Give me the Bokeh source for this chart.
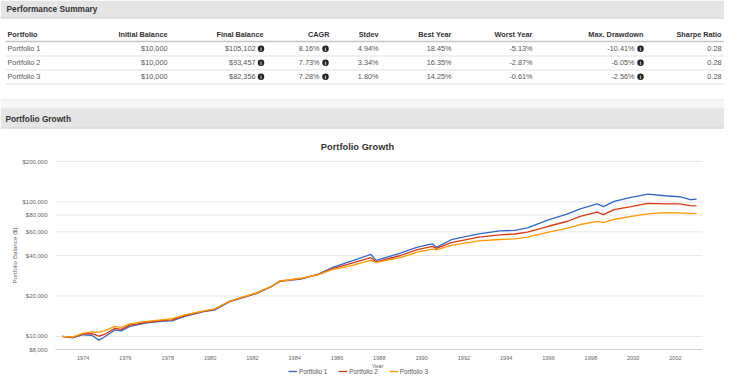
import math
from bokeh.plotting import figure
from bokeh.models import Range1d, LinearScale, Legend, LegendItem
from bokeh.core.properties import value
from bokeh.embed import file_html
from bokeh.resources import INLINE

FONT = "Liberation Sans"

# ---------------- data ----------------
portfolios = ["Portfolio 1", "Portfolio 2", "Portfolio 3"]
initial_balance = ["$10,000", "$10,000", "$10,000"]
final_balance = ["$105,102", "$93,457", "$82,356"]
cagr = ["8.16%", "7.73%", "7.28%"]
stdev = ["4.94%", "3.34%", "1.80%"]
best_year = ["18.45%", "16.35%", "14.25%"]
worst_year = ["-5.13%", "-2.87%", "-0.61%"]
max_drawdown = ["-10.41%", "-6.05%", "-2.56%"]
sharpe = ["0.28", "0.28", "0.28"]
headers = ["Portfolio", "Initial Balance", "Final Balance", "CAGR", "Stdev",
           "Best Year", "Worst Year", "Max. Drawdown", "Sharpe Ratio"]

years = [1973.0, 1973.5, 1974.0, 1974.4, 1974.75, 1975.0, 1975.5, 1975.8, 1976.2,
         1977.0, 1977.8, 1978.2, 1978.8, 1979.7, 1980.2, 1980.9, 1981.6, 1982.2,
         1982.9, 1983.3, 1984.3, 1985.1, 1985.8, 1986.5, 1987.6, 1987.85, 1989.0,
         1989.8, 1990.5, 1990.7, 1991.4, 1992.7, 1993.7, 1994.4, 1995.0, 1996.0,
         1996.9, 1997.5, 1998.3, 1998.6, 1999.1, 1999.9, 2000.7, 2001.5, 2002.2,
         2002.7, 2003.0]
p1 = [10000, 9780, 10300, 10200, 9400, 9900, 11200, 11000, 11900,
      12600, 13000, 13050, 14100, 15300, 15700, 18100, 19500, 20900,
      23500, 25700, 26700, 29000, 32600, 35600, 40700, 36800, 41600,
      46100, 48900, 46000, 52400, 58000, 60900, 61600, 64100, 73600,
      81500, 88800, 96700, 92400, 101100, 108200, 114500, 111300, 109400,
      103900, 105102]
p2 = [10000, 9830, 10450, 10500, 10050, 10350, 11500, 11300, 12150,
      12750, 13150, 13300, 14300, 15450, 15900, 18200, 19700, 21000,
      23550, 25800, 26900, 28900, 32000, 34300, 38500, 35900, 40000,
      44300, 46700, 45200, 49800, 54800, 57000, 57800, 59700, 66000,
      71900, 78100, 84200, 80500, 87700, 92400, 97800, 96700, 96700,
      94100, 93457]
p3 = [10000, 9880, 10600, 10800, 10780, 11000, 11870, 11700, 12400,
      12950, 13350, 13550, 14450, 15500, 16000, 18200, 19800, 21100,
      23600, 25850, 27100, 28700, 31500, 33100, 36800, 35500, 38500,
      42300, 44700, 44000, 47500, 51300, 52600, 53100, 54800, 59700,
      63800, 68000, 71700, 70100, 74100, 78100, 81500, 83400, 82900,
      82000, 82356]
series_names = ["Portfolio 1", "Portfolio 2", "Portfolio 3"]
series_colors = ["#3366cc", "#dc3912", "#ff9900"]
y_ticks = [8000, 10000, 20000, 40000, 60000, 80000, 100000, 200000]
y_tick_labels = ["$8,000", "$10,000", "$20,000", "$40,000", "$60,000", "$80,000",
                 "$100,000", "$200,000"]
x_ticks = [1974, 1976, 1978, 1980, 1982, 1984, 1986, 1988, 1990, 1992, 1994,
           1996, 1998, 2000, 2002]
x_tick_labels = [str(t) for t in x_ticks]

# ---------------- layout (canvas pixels) ----------------
CL, CR, CT, CB = 0, 724, 0, 375          # canvas
FL, FR, FT, FB = 55, 702, 161, 349       # chart plotting area
X0, X1 = 1972.69, 2003.28                # x extent of plotting area (years)
Y0, Y1 = 8000, 200000                    # y extent of plotting area (log)

yr_per_px = (X1 - X0) / (FR - FL)
x_start = X0 - (FL - CL) * yr_per_px
x_end = X1 + (CR - FR) * yr_per_px
dec_per_px = (math.log10(Y1) - math.log10(Y0)) / (FB - FT)
y_start = 10 ** (math.log10(Y0) - (CB - FB) * dec_per_px)
y_end = 10 ** (math.log10(Y1) + (FT - CT) * dec_per_px)

p = figure(width=CR - CL, height=CB - CT,
           x_range=Range1d(x_start, x_end), y_range=Range1d(y_start, y_end),
           y_axis_type="log", x_axis_location=None, y_axis_location=None,
           toolbar_location=None, output_backend="svg", min_border=0,
           outline_line_color=None)
p.xgrid.visible = False
p.ygrid.visible = False
p.extra_x_ranges = {"px": Range1d(CL, CR)}
p.extra_y_ranges = {"px": Range1d(CB, CT)}
p.extra_x_scales = {"px": LinearScale()}
p.extra_y_scales = {"px": LinearScale()}

PX = dict(x_range_name="px", y_range_name="px")


def pbox(x0, x1, y0, y1, color):
    p.quad(left=[x0], right=[x1], top=[y0], bottom=[y1], fill_color=color,
           line_color=None, **PX)


def ptext(xs, ys, texts, size, color, align="left", style="normal", angle=0.0, **rn):
    kw = rn if rn else PX
    p.text(x=xs, y=ys, text=texts, text_font=value(FONT), text_font_size=value(size),
           text_color=color, text_align=align, text_baseline="middle",
           text_font_style=style, angle=angle, **kw)


# ---- Performance Summary panel ----
pbox(CL, CR, 0, 17, "#e5e5e5")
pbox(CL, CR, 17, 18, "#c8c8c8")
ptext([6], [8.5], ["Performance Summary"], "8.3px", "#333333", style="bold")

hdr_x = [7, 167, 263, 329, 378, 451, 532, 643, 721]
for i, (hx, ht) in enumerate(zip(hdr_x, headers)):
    ptext([hx], [33.5], [ht], "7.3px", "#333333", align="left" if i == 0 else "right",
          style="bold")
pbox(5, CR, 40.3, 41.8, "#c4c4c4")

row_y = [48.3, 62.3, 76.3]
for ly in [55.5, 69.5, 83.5]:
    pbox(5, CR, ly - 0.5, ly + 0.5, "#e2e2e2")

columns = [(7, "left", portfolios), (167, "right", initial_balance),
           (255, "right", final_balance), (319, "right", cagr),
           (378, "right", stdev), (451, "right", best_year),
           (532, "right", worst_year), (634, "right", max_drawdown),
           (721, "right", sharpe)]
for cx, ca, vals in columns:
    ptext([cx] * 3, row_y, vals, "7.3px", "#555555", align=ca)

for ix in [260.5, 325, 640]:
    p.scatter(x=[ix] * 3, y=row_y, size=6.5, fill_color="#222222", line_color=None, **PX)
    ptext([ix] * 3, [ry + 0.3 for ry in row_y], ["i"] * 3, "5px", "#ffffff",
          align="center", style="bold")

# ---- Portfolio Growth panel ----
pbox(CL, CR, 99, 100, "#e0e0e0")
pbox(CL, CR, 100, 108, "#f6f6f6")
pbox(CL, CR, 108, 109, "#d6d6d6")
pbox(CL, CR, 109, 127, "#e5e5e5")
pbox(CL, CR, 127, 128, "#c8c8c8")
ptext([5], [118.5], ["Portfolio Growth"], "8.3px", "#333333", style="bold")
ptext([357], [146.5], ["Portfolio Growth"], "9.3px", "#333333", align="center",
      style="bold")

# ---------------- chart ----------------
p.segment(x0=[X0] * len(y_ticks), x1=[X1] * len(y_ticks), y0=y_ticks, y1=y_ticks,
          line_color="#e8e8e8", line_width=1)
p.segment(x0=[X0], x1=[X1], y0=[Y0], y1=[Y0], line_color="#cfcfcf", line_width=1)

renderers = []
for ys, col in zip([p1, p2, p3], series_colors):
    renderers.append(p.line(years, ys, line_color=col, line_width=1.3))

ptext([FL - 8] * len(y_ticks), y_ticks, y_tick_labels, "6px", "#666666", align="right",
      x_range_name="px")
ptext(x_ticks, [357] * len(x_ticks), x_tick_labels, "5.6px", "#666666", align="center",
      y_range_name="px")
ptext([14], [255], ["Portfolio Balance ($)"], "6.2px", "#666666", align="center",
      angle=math.pi / 2)
ptext([377], [365.5], ["Year"], "5.8px", "#666666", align="center")

legend = Legend(items=[LegendItem(label=n, renderers=[r])
                       for n, r in zip(series_names, renderers)],
                location=(288 - CL, CB - 374.5), orientation="horizontal",
                padding=0, margin=0, spacing=11, glyph_width=9, glyph_height=6,
                label_standoff=2, label_height=6, label_text_font=FONT,
                label_text_font_size="6.3px", label_text_color="#555555",
                border_line_color=None, background_fill_alpha=0.0)
p.add_layout(legend)

open("out.html", "w").write(file_html(p, INLINE))
